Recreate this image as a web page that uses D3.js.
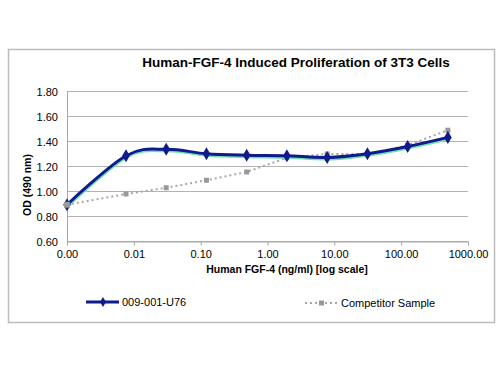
<!DOCTYPE html>
<html lang="en">
<head>
    <meta charset="UTF-8">
    <title>FGF-4 Proliferation</title>
    <script src="https://d3js.org/d3.v7.min.js"></script>
    <style>
        body { margin: 0; background: #fff; }
        text { font-family: 'Liberation Sans', Arial, sans-serif; fill: #000; }
        .tick text { font-size: 11px; }
    </style>
</head>
<body>
<script>

    const width  = 500;
    const height = 375;

    // concentrations (ng/ml); 0 plotted at 0.001 on the log axis
    const conc = [0.001, 0.00763, 0.0305, 0.122, 0.488, 1.95, 7.81, 31.25, 125, 500];
    const seriesA = [0.894, 1.286, 1.338, 1.302, 1.290, 1.286, 1.272, 1.302, 1.360, 1.433];
    const seriesB = [0.894, 0.980, 1.030, 1.090, 1.156, 1.270, 1.300, 1.300, 1.370, 1.490];
    const seriesNames = ['009-001-U76', 'Competitor Sample'];
    const xTicks = [0.001, 0.01, 0.1, 1, 10, 100, 1000];
    const yTicks = [0.6, 0.8, 1.0, 1.2, 1.4, 1.6, 1.8];

    const plot = {left: 67, right: 468, top: 91.5, bottom: 241.5};

    const x = d3.scaleLog()
            .domain([0.001, 1000])
            .range([plot.left, plot.right]);
    const y = d3.scaleLinear()
            .domain([0.6, 1.8])
            .range([plot.bottom, plot.top]);

    const svg = d3.select("body")
            .append("svg")
            .attr("width", width)
            .attr("height", height);

    // chart frame
    svg.append("rect")
            .attr("x", 8.5)
            .attr("y", 49.5)
            .attr("width", 486)
            .attr("height", 273)
            .attr("fill", "#fff")
            .attr("stroke", "#bcbcbc")
            .attr("stroke-width", 1.5);

    svg.append("text")
            .text("Human-FGF-4 Induced Proliferation of 3T3 Cells")
            .attr("x", 296)
            .attr("y", 67)
            .attr("text-anchor", "middle")
            .style("font-size", "13.5px")
            .style("font-weight", "bold");

    // gridlines
    svg.append("g")
            .selectAll("line")
            .data(yTicks)
            .enter()
            .append("line")
            .attr("x1", plot.left)
            .attr("x2", plot.right)
            .attr("y1", d => y(d))
            .attr("y2", d => y(d))
            .attr("stroke", "#b3b3b3");

    const yAxis = d3.axisLeft(y)
            .tickValues(yTicks)
            .tickSize(0)
            .tickPadding(9)
            .tickFormat(d3.format(".2f"));
    const gy = svg.append("g")
            .attr("transform", "translate(" + plot.left + ",0)")
            .call(yAxis);
    gy.select(".domain").attr("stroke", "#a8a8a8");

    const xAxis = d3.axisBottom(x)
            .tickValues(xTicks)
            .tickSize(4)
            .tickPadding(5)
            .tickFormat(d3.format(".2f"));
    const gx = svg.append("g")
            .attr("transform", "translate(0," + plot.bottom + ")")
            .call(xAxis);
    gx.select(".domain").attr("stroke", "#a8a8a8");
    gx.selectAll(".tick line").attr("stroke", "#a8a8a8");

    svg.append("text")
            .text("Human FGF-4 (ng/ml) [log scale]")
            .attr("x", 287)
            .attr("y", 273)
            .attr("text-anchor", "middle")
            .style("font-size", "10.5px")
            .style("font-weight", "bold");

    svg.append("text")
            .text("OD (490 nm)")
            .attr("transform", "translate(31,185) rotate(-90)")
            .attr("text-anchor", "middle")
            .style("font-size", "10.5px")
            .style("font-weight", "bold");

    const dataA = conc.map((c, i) => [c, seriesA[i]]);
    const dataB = conc.map((c, i) => [c, seriesB[i]]);

    const smooth = d3.line()
            .x(d => x(d[0]))
            .y(d => y(d[1]))
            .curve(d3.curveCardinal.tension(0));
    const straight = d3.line()
            .x(d => x(d[0]))
            .y(d => y(d[1]));

    // competitor: grey dotted line, square markers
    svg.append("path")
            .attr("d", straight(dataB))
            .attr("fill", "none")
            .attr("stroke", "#a6a6a6")
            .attr("stroke-width", 2)
            .attr("stroke-dasharray", "2,3");
    svg.append("g")
            .selectAll("rect")
            .data(dataB)
            .enter()
            .append("rect")
            .attr("x", d => x(d[0]) - 2.5)
            .attr("y", d => y(d[1]) - 2.5)
            .attr("width", 5)
            .attr("height", 5)
            .attr("fill", "#999");

    // main series: green glow under a navy smoothed line
    svg.append("path")
            .attr("d", smooth(dataA))
            .attr("transform", "translate(0.5,1.5)")
            .attr("fill", "none")
            .attr("stroke", "#6ee0a8")
            .attr("stroke-width", 3);
    svg.append("path")
            .attr("d", smooth(dataA))
            .attr("fill", "none")
            .attr("stroke", "#0f1a8c")
            .attr("stroke-width", 3);

    const diamond = d3.symbol().type(d3.symbolDiamond).size(50);
    svg.append("g")
            .selectAll("path")
            .data(dataA)
            .enter()
            .append("path")
            .attr("d", diamond)
            .attr("transform", d => "translate(" + x(d[0]) + "," + y(d[1]) + ")")
            .attr("fill", "#0f1a8c");

    // first point shows the grey marker on top
    svg.append("rect")
            .attr("x", x(dataB[0][0]) - 3)
            .attr("y", y(dataB[0][1]) - 3)
            .attr("width", 6)
            .attr("height", 6)
            .attr("fill", "#999");

    // legend
    const legend = svg.append("g");
    legend.append("line")
            .attr("x1", 86).attr("x2", 119)
            .attr("y1", 302).attr("y2", 302)
            .attr("stroke", "#0f1a8c")
            .attr("stroke-width", 3);
    legend.append("path")
            .attr("d", d3.symbol().type(d3.symbolDiamond).size(30))
            .attr("transform", "translate(103,302)")
            .attr("fill", "#0f1a8c");
    legend.append("text")
            .text(seriesNames[0])
            .attr("x", 122)
            .attr("y", 306)
            .style("font-size", "11px");

    legend.append("line")
            .attr("x1", 305).attr("x2", 338)
            .attr("y1", 303).attr("y2", 303)
            .attr("stroke", "#a6a6a6")
            .attr("stroke-width", 2)
            .attr("stroke-dasharray", "2,3");
    legend.append("rect")
            .attr("x", 319).attr("y", 300.5)
            .attr("width", 5).attr("height", 5)
            .attr("fill", "#999");
    legend.append("text")
            .text(seriesNames[1])
            .attr("x", 341)
            .attr("y", 307)
            .style("font-size", "11px");

</script>
</body>
</html>
